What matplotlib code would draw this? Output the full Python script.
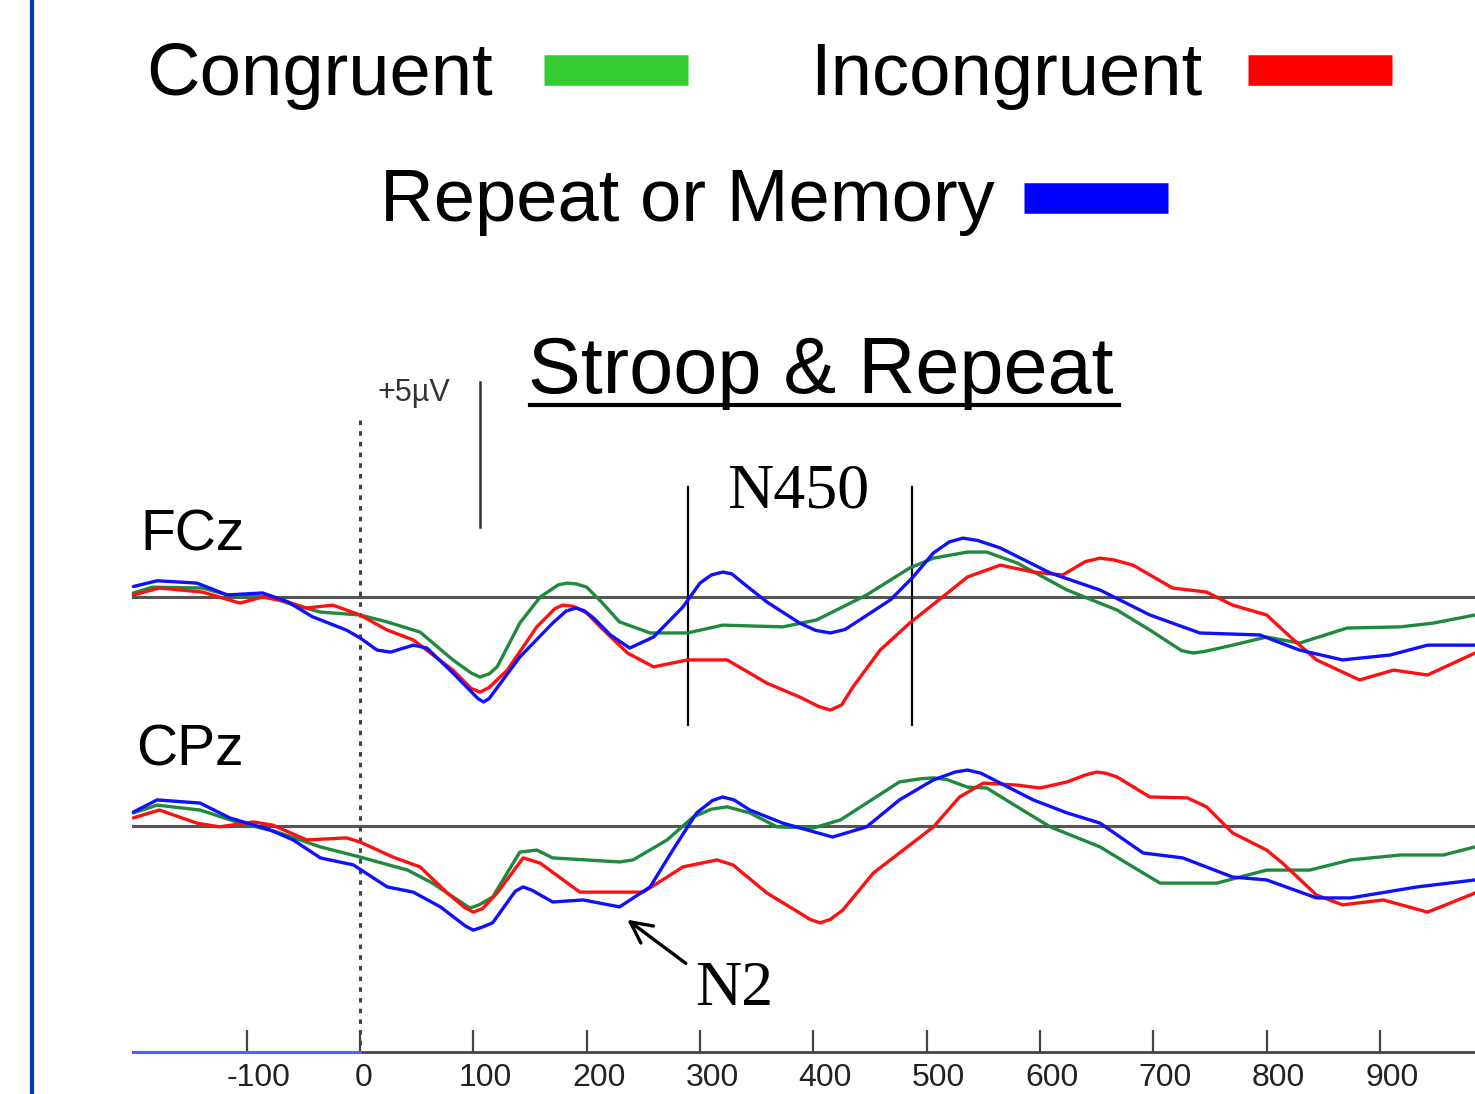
import matplotlib
matplotlib.use("Agg")
import matplotlib.pyplot as plt
from matplotlib import font_manager
from matplotlib.lines import Line2D
from matplotlib.transforms import ScaledTranslation

# ---- data (time in ms, amplitude in microvolts) ----
fcz_green_t = [-200, -183, -139, -117, -79, -64, -35, 0, 24, 53, 82, 98, 106, 114, 121, 141, 159, 175, 183,
               191, 200, 214, 229, 256, 289, 320, 373, 403, 447, 485, 506, 536, 553, 580, 624, 668, 697, 725,
               735, 745, 770, 800, 829, 871, 918, 947, 984]
fcz_green_v = [0.14, 0.34, 0.31, 0.07, 0.0, -0.21, -0.52, -0.62, -0.86, -1.21, -2.17, -2.62, -2.76, -2.65,
               -2.41, -0.90, 0.0, 0.42, 0.48, 0.45, 0.34, -0.21, -0.86, -1.24, -1.24, -0.97, -1.03, -0.79, 0.07,
               1.00, 1.34, 1.55, 1.55, 1.17, 0.24, -0.45, -1.14, -1.85, -1.93, -1.88, -1.66, -1.38, -1.59,
               -1.07, -1.03, -0.90, -0.62]

fcz_red_t = [-200, -177, -139, -106, -86, -64, -47, -24, 0, 24, 47, 82, 98, 106, 114, 130, 156, 172, 179, 188,
             200, 212, 236, 259, 289, 324, 359, 388, 405, 415, 425, 435, 459, 485, 514, 536, 565, 594, 620, 640,
             653, 665, 682, 717, 747, 770, 800, 821, 844, 882, 912, 942, 984]
fcz_red_v = [0.07, 0.31, 0.17, -0.21, 0.0, -0.17, -0.38, -0.28, -0.62, -1.14, -1.48, -2.52, -3.15, -3.28,
             -3.12, -2.52, -1.03, -0.40, -0.28, -0.32, -0.55, -1.03, -1.93, -2.41, -2.17, -2.17, -2.97, -3.45,
             -3.78, -3.90, -3.72, -3.10, -1.83, -0.90, 0.0, 0.69, 1.10, 0.86, 0.76, 1.22, 1.34, 1.28, 1.10,
             0.31, 0.17, -0.28, -0.62, -1.38, -2.17, -2.86, -2.52, -2.69, -1.93]

fcz_blue_t = [-200, -179, -144, -117, -86, -64, -42, -12, 0, 15, 27, 47, 59, 82, 104, 109, 114, 141, 170, 182,
              191, 198, 206, 221, 238, 259, 285, 300, 310, 320, 328, 338, 359, 388, 402, 415, 428, 441, 468,
              488, 506, 520, 532, 545, 565, 609, 653, 697, 741, 794, 829, 867, 909, 942, 984]
fcz_blue_v = [0.36, 0.56, 0.48, 0.07, 0.14, -0.16, -0.68, -1.14, -1.41, -1.83, -1.90, -1.66, -1.76, -2.62,
              -3.50, -3.62, -3.50, -2.07, -0.90, -0.48, -0.38, -0.48, -0.72, -1.31, -1.76, -1.38, -0.34, 0.48,
              0.76, 0.86, 0.80, 0.48, -0.17, -0.90, -1.15, -1.24, -1.12, -0.79, -0.10, 0.69, 1.52, 1.90, 2.03,
              1.95, 1.69, 0.83, 0.24, -0.62, -1.24, -1.31, -1.83, -2.17, -2.00, -1.66, -1.66]

cpz_green_t = [-200, -179, -141, -109, -73, -35, 0, 42, 64, 90, 97, 105, 117, 141, 156, 170, 229, 241, 271, 294,
               310, 324, 344, 368, 400, 424, 447, 476, 495, 506, 518, 536, 553, 580, 609, 653, 682, 706, 756,
               800, 838, 874, 918, 956, 984]
cpz_green_v = [0.45, 0.72, 0.55, 0.14, -0.21, -0.72, -1.07, -1.52, -1.97, -2.65, -2.83, -2.72, -2.45, -0.90,
               -0.83, -1.10, -1.24, -1.17, -0.48, 0.31, 0.58, 0.66, 0.45, -0.03, -0.07, 0.21, 0.79, 1.52, 1.63,
               1.66, 1.60, 1.34, 1.31, 0.66, -0.03, -0.72, -1.41, -1.97, -1.97, -1.52, -1.52, -1.17, -1.00,
               -1.00, -0.72]

cpz_red_t = [-200, -177, -144, -124, -94, -77, -47, -12, 0, 29, 53, 77, 92, 100, 108, 121, 144, 159, 194, 229,
             250, 285, 315, 329, 359, 388, 397, 406, 415, 426, 453, 483, 506, 529, 550, 580, 600, 624, 640, 650,
             658, 668, 697, 730, 747, 770, 800, 814, 844, 867, 903, 942, 984]
cpz_red_v = [0.28, 0.55, 0.10, -0.03, 0.14, 0.03, -0.48, -0.41, -0.55, -1.07, -1.41, -2.31, -2.80, -2.97,
             -2.85, -2.31, -1.10, -1.28, -2.28, -2.28, -2.28, -1.41, -1.17, -1.34, -2.31, -3.00, -3.22, -3.34,
             -3.22, -2.90, -1.62, -0.72, -0.03, 1.00, 1.48, 1.41, 1.31, 1.52, 1.76, 1.86, 1.82, 1.69, 1.00, 0.97,
             0.66, -0.24, -0.83, -1.28, -2.38, -2.72, -2.55, -2.97, -2.31]

cpz_blue_t = [-200, -179, -141, -115, -79, -59, -35, -6, 24, 47, 71, 93, 100, 107, 117, 137, 144, 152, 170, 197,
              229, 256, 276, 297, 311, 320, 330, 344, 373, 417, 447, 476, 506, 525, 536, 548, 565, 594, 624,
              653, 691, 726, 770, 800, 844, 874, 933, 984]
cpz_blue_v = [0.48, 0.90, 0.79, 0.28, -0.14, -0.48, -1.10, -1.34, -2.10, -2.28, -2.79, -3.45, -3.59, -3.50,
              -3.34, -2.25, -2.10, -2.22, -2.62, -2.55, -2.79, -2.10, -0.83, 0.45, 0.88, 1.00, 0.90, 0.55, 0.10,
              -0.38, -0.03, 0.90, 1.59, 1.86, 1.93, 1.82, 1.48, 0.90, 0.45, 0.10, -0.93, -1.10, -1.76, -1.86,
              -2.48, -2.48, -2.10, -1.86]

time_ticks = [-100, 0, 100, 200, 300, 400, 500, 600, 700, 800, 900]
legend_names = ["Congruent", "Incongruent", "Repeat or Memory"]

# ---- layout helpers (pixel space of the 1475x1094 image) ----
W, H = 1475, 1094
PX_PER_MS = 1.1333
PX_PER_UV = 29.0
ZERO_PX = 360      # x pixel of t = 0
CPZ_PX = 826       # y pixel of CPz baseline
FCZ_PX = 597       # y pixel of FCz baseline
fcz_off = (CPZ_PX - FCZ_PX) / PX_PER_UV


def fx(px):
    return px / W


def fy(py):
    return 1 - py / H


def t_at(px):
    return (px - ZERO_PX) / PX_PER_MS


def uv_at(py):
    return (CPZ_PX - py) / PX_PER_UV


names = {f.name for f in font_manager.fontManager.ttflist}
narrow = "Liberation Sans Narrow" in names
small_font = ["Liberation Sans Narrow"] if narrow else ["Liberation Sans"]
small_size = 26 if narrow else 23

plt.rcParams["font.family"] = ["Liberation Sans", "DejaVu Sans"]

fig = plt.figure(figsize=(W / 100, H / 100), dpi=100)
ax = fig.add_axes([0, 0, 1, 1])
ax.set_xlim(t_at(0), t_at(W))
ax.set_ylim(uv_at(H), uv_at(0))
for s in ["top", "left", "right"]:
    ax.spines[s].set_visible(False)
ax.patch.set_alpha(0)

green = "#1f8a3e"
red = "#ff1010"
blue = "#1010ff"
base_col = "#555555"

# baselines
ax.plot([-200, 984], [fcz_off, fcz_off], color=base_col, lw=2.2, zorder=1)
ax.plot([-200, 984], [0, 0], color=base_col, lw=2.2, zorder=1)

# traces
kw = dict(lw=2.4, solid_joinstyle="round", solid_capstyle="round")
ax.plot(fcz_green_t, [v + fcz_off for v in fcz_green_v], color=green, zorder=3, **kw)
ax.plot(fcz_red_t, [v + fcz_off for v in fcz_red_v], color=red, zorder=3, **kw)
ax.plot(fcz_blue_t, [v + fcz_off for v in fcz_blue_v], color=blue, zorder=4, **kw)
ax.plot(cpz_green_t, cpz_green_v, color=green, zorder=3, **kw)
ax.plot(cpz_red_t, cpz_red_v, color=red, zorder=3, **kw)
ax.plot(cpz_blue_t, cpz_blue_v, color=blue, zorder=4, **kw)

# stimulus onset dotted line
ax.plot([0, 0], [uv_at(420), uv_at(1052)], color="#444444", lw=2.2, ls=(0, (1.5, 2.0)), zorder=2)

# +5 uV scale bar
ax.plot([t_at(480), t_at(480)], [uv_at(382), uv_at(382) - 5], color="#333333", lw=1.8)
fig.text(fx(377), fy(393), "+5\u00b5V", family=small_font, fontsize=small_size - 1, color="#333333",
         ha="left", va="center")

# N450 window
for px in (688, 912):
    ax.plot([t_at(px), t_at(px)], [uv_at(487), uv_at(725)], color="black", lw=1.6)
fig.text(fx(727), fy(492), "N450", family=["Liberation Serif"], fontsize=46, ha="left", va="center")

# N2 arrow
ax.annotate("", xy=(t_at(625), uv_at(918)), xytext=(t_at(688), uv_at(965)),
            arrowprops=dict(arrowstyle="->", lw=2.4, color="black", mutation_scale=38))
fig.text(fx(695), fy(990), "N2", family=["Liberation Serif"], fontsize=46, ha="left", va="center")

# channel labels
fig.text(fx(140), fy(535), "FCz", fontsize=41, ha="left", va="center")
fig.text(fx(136), fy(750), "CPz", fontsize=41, ha="left", va="center")

# time axis
ax.spines["bottom"].set_position(("data", uv_at(1052)))
ax.spines["bottom"].set_bounds(0, 984)
ax.spines["bottom"].set_color("#444444")
ax.spines["bottom"].set_linewidth(2.0)
ax.plot([-200, 0], [uv_at(1052), uv_at(1052)], color="#4466ff", lw=2.2, clip_on=False, zorder=5)
ax.set_xticks(time_ticks)
ax.set_xticklabels([str(t) for t in time_ticks], family=small_font, fontsize=small_size, color="#222222")
ax.tick_params(axis="x", direction="in", length=16, width=1.6, color="#444444", pad=8)
ax.set_yticks([])

# labels sit a little right of their ticks
for lab, t in zip(ax.get_xticklabels(), time_ticks):
    shift = 0.04 if t == 0 else 0.12
    lab.set_transform(lab.get_transform() + ScaledTranslation(shift, 0, fig.dpi_scale_trans))

# legend header
fig.text(fx(146), fy(75), legend_names[0], fontsize=53.5, ha="left", va="center")
fig.text(fx(810), fy(75), legend_names[1], fontsize=53.5, ha="left", va="center")
fig.text(fx(380), fy(201), legend_names[2], fontsize=53.5, ha="left", va="center")
fig.add_artist(Line2D([fx(544), fx(688)], [fy(70), fy(70)], color="#33cc33", lw=22, solid_capstyle="butt"))
fig.add_artist(Line2D([fx(1248), fx(1392)], [fy(70), fy(70)], color="#ff0000", lw=22, solid_capstyle="butt"))
fig.add_artist(Line2D([fx(1024), fx(1168)], [fy(198), fy(198)], color="#0000ff", lw=22, solid_capstyle="butt"))

# title
fig.text(fx(528), fy(372), "Stroop & Repeat", fontsize=57, ha="left", va="center")
fig.add_artist(Line2D([fx(530), fx(1119)], [fy(405), fy(405)], color="black", lw=3))

# left border line
fig.add_artist(Line2D([fx(32), fx(32)], [0, 1], color="#0a3aaa", lw=3))

fig.savefig("out.png", dpi=100)
